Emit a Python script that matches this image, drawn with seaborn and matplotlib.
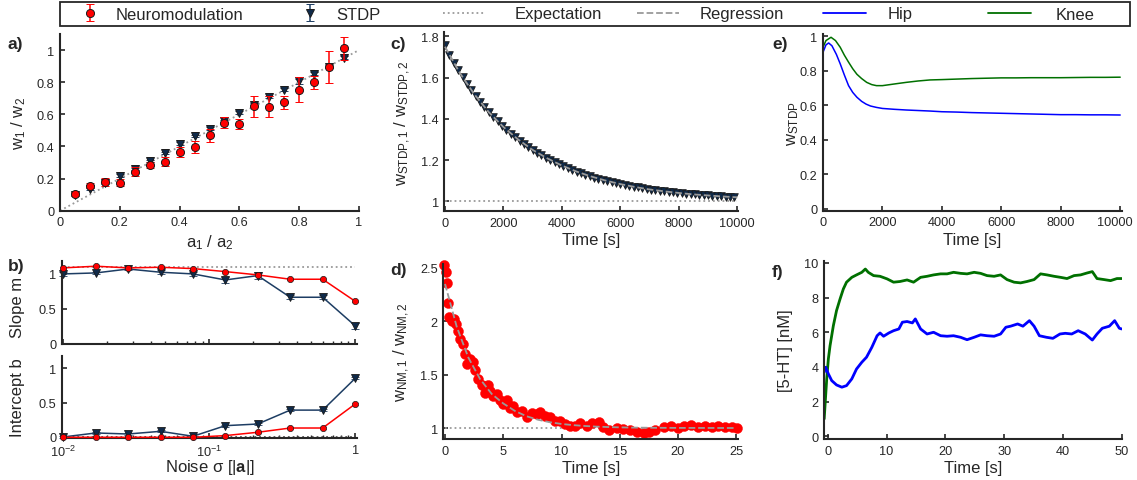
import numpy as np
import pandas as pd
import seaborn as sns
import matplotlib.pyplot as plt
import matplotlib.transforms as mtransforms
from matplotlib.lines import Line2D
from matplotlib.patches import Rectangle
from matplotlib.ticker import FuncFormatter, LogLocator, NullFormatter

# ---------------- data ----------------
# a) ratio of weights vs ratio of inputs
ratio_a = [0.05, 0.10, 0.15, 0.20, 0.25, 0.30, 0.35, 0.40, 0.45, 0.50,
           0.55, 0.60, 0.65, 0.70, 0.75, 0.80, 0.85, 0.90, 0.95]
nm_ratio = [0.104, 0.156, 0.180, 0.175, 0.244, 0.286, 0.306, 0.365, 0.396, 0.469,
            0.548, 0.538, 0.650, 0.648, 0.675, 0.754, 0.800, 0.896, 1.010]
nm_err = [0.010, 0.015, 0.025, 0.020, 0.025, 0.020, 0.030, 0.030, 0.035, 0.042,
          0.033, 0.031, 0.067, 0.065, 0.040, 0.080, 0.040, 0.100, 0.070]
stdp_ratio = [0.100, 0.136, 0.173, 0.219, 0.260, 0.310, 0.360, 0.417, 0.465, 0.510,
              0.559, 0.610, 0.660, 0.709, 0.754, 0.806, 0.852, 0.896, 0.952]
stdp_err = [0.008, 0.008, 0.008, 0.008, 0.008, 0.008, 0.008, 0.008, 0.008, 0.008,
            0.008, 0.008, 0.010, 0.008, 0.008, 0.015, 0.010, 0.010, 0.010]

# b) slope / intercept vs noise
noise = [0.01, 0.0167, 0.0278, 0.0464, 0.0774, 0.129, 0.215, 0.359, 0.599, 1.0]
nm_slope = [1.086, 1.110, 1.086, 1.095, 1.076, 1.033, 0.986, 0.924, 0.924, 0.610]
nm_slope_err = [0.01, 0.01, 0.01, 0.01, 0.01, 0.01, 0.01, 0.01, 0.01, 0.01]
stdp_slope = [1.000, 1.014, 1.070, 1.024, 1.000, 0.914, 0.976, 0.667, 0.667, 0.260]
stdp_slope_err = [0.03, 0.02, 0.02, 0.03, 0.03, 0.04, 0.05, 0.03, 0.03, 0.04]
nm_icpt = [-0.005, -0.005, -0.005, -0.005, -0.005, 0.020, 0.068, 0.130, 0.130, 0.478]
nm_icpt_err = [0.01, 0.01, 0.01, 0.01, 0.01, 0.01, 0.01, 0.01, 0.01, 0.01]
stdp_icpt = [0.000, 0.058, 0.043, 0.082, 0.010, 0.164, 0.188, 0.390, 0.390, 0.850]
stdp_icpt_err = [0.01, 0.01, 0.01, 0.015, 0.01, 0.015, 0.02, 0.015, 0.015, 0.015]

# c) STDP weight ratio over time (one sample every 150 s)
stdp_t = np.arange(67) * 150
stdp_w = [1.758, 1.710, 1.672, 1.636, 1.602, 1.570, 1.539, 1.510, 1.483, 1.457,
          1.433, 1.409, 1.387, 1.367, 1.347, 1.328, 1.311, 1.294, 1.278, 1.264,
          1.249, 1.236, 1.223, 1.211, 1.200, 1.189, 1.179, 1.170, 1.161, 1.152,
          1.144, 1.136, 1.129, 1.122, 1.115, 1.109, 1.103, 1.098, 1.093, 1.088,
          1.083, 1.079, 1.074, 1.070, 1.067, 1.063, 1.060, 1.056, 1.053, 1.051,
          1.048, 1.045, 1.043, 1.041, 1.038, 1.036, 1.034, 1.033, 1.031, 1.029,
          1.028, 1.026, 1.025, 1.023, 1.022, 1.021, 1.020]
stdp_fit_t = [0, 500, 1000, 1500, 2000, 2500, 3000, 3500, 4000, 4500, 5000,
              5500, 6000, 6500, 7000, 7500, 8000, 8500, 9000, 9500, 10000]
stdp_fit = [1.750, 1.624, 1.520, 1.432, 1.360, 1.300, 1.249, 1.208, 1.173, 1.144, 1.120,
            1.100, 1.083, 1.069, 1.057, 1.048, 1.040, 1.033, 1.028, 1.023, 1.019]

# d) neuromodulation weight ratio over time
nm_t = [-0.1, 0.06, 0.14, 0.29, 0.37, 0.57, 0.77, 0.94, 1.14, 1.29,
        1.57, 1.72, 1.86, 2.15, 2.37, 2.57, 2.86, 3.15, 3.43, 3.72,
        3.86, 4.15, 4.43, 4.72, 5.0, 5.29, 5.58, 5.86, 6.15, 6.58,
        7.0, 7.44, 7.87, 8.15, 8.58, 9.0, 9.44, 9.87, 10.3, 10.7,
        11.2, 11.6, 12.2, 12.6, 13.2, 13.6, 14.05, 14.76, 15.3, 15.9,
        16.5, 17.1, 17.5, 18.0, 18.8, 19.4, 20.0, 20.5, 21.1, 21.7,
        22.3, 22.9, 23.4, 24.0, 24.6, 25.1]
nm_w = [2.53, 2.465, 2.356, 2.17, 2.04, 2.0, 2.02, 1.975, 1.91, 1.83,
        1.79, 1.69, 1.60, 1.65, 1.62, 1.54, 1.46, 1.40, 1.33, 1.40,
        1.35, 1.30, 1.32, 1.26, 1.225, 1.26, 1.19, 1.21, 1.15, 1.16,
        1.10, 1.14, 1.13, 1.15, 1.115, 1.10, 1.07, 1.07, 1.04, 1.02,
        1.02, 1.044, 1.02, 1.044, 1.053, 1.007, 0.98, 0.997, 0.99, 0.985,
        0.966, 0.953, 0.966, 0.985, 1.007, 1.02, 1.0, 1.015, 1.028, 1.007,
        1.015, 1.012, 1.015, 1.007, 1.012, 1.0]
nm_fit_t = [0, 1, 2, 3, 4, 5, 6, 7, 8, 9, 10, 11, 12, 13, 14, 15, 16, 18, 20, 25]
nm_fit = [2.35, 1.95, 1.66, 1.46, 1.32, 1.23, 1.16, 1.11, 1.077, 1.054, 1.038,
          1.027, 1.019, 1.013, 1.009, 1.006, 1.004, 1.002, 1.001, 1.0]

# e) STDP weights, hip and knee
e_t = [0, 100, 190, 300, 450, 580, 720, 860, 1000, 1140, 1300, 1450, 1600, 1800,
       2000, 2400, 2800, 3200, 3600, 4000, 4500, 5000, 5500, 6000, 6500, 7000,
       7500, 8000, 8500, 9000, 9500, 10000]
hip_w = [0.907, 0.950, 0.961, 0.945, 0.895, 0.840, 0.775, 0.714, 0.675, 0.647,
         0.623, 0.607, 0.596, 0.588, 0.582, 0.577, 0.573, 0.570, 0.567, 0.563,
         0.561, 0.558, 0.556, 0.554, 0.552, 0.550, 0.548, 0.546, 0.546, 0.545,
         0.545, 0.544]
knee_t = [0, 100, 270, 420, 580, 720, 860, 1000, 1140, 1300, 1470, 1640, 1800,
          2000, 2250, 2500, 2800, 3200, 3600, 4000, 4500, 5000, 5500, 6000, 6500,
          7000, 7500, 8000, 8500, 9000, 9500, 10000]
knee_w = [0.936, 0.975, 0.994, 0.975, 0.936, 0.890, 0.850, 0.812, 0.780, 0.755,
          0.733, 0.720, 0.714, 0.714, 0.720, 0.726, 0.733, 0.741, 0.747, 0.749,
          0.752, 0.755, 0.757, 0.759, 0.759, 0.760, 0.760, 0.760, 0.761, 0.762,
          0.762, 0.763]

# f) serotonin concentration
ht_knee_t = [-0.6, -0.17, 0.11, 0.4, 0.96, 1.5, 2.1, 2.66, 3.2, 4.1, 4.9, 5.8, 6.4,
             6.9, 7.8, 8.9, 10.1, 11.2, 12.3, 13.5, 14.6, 15.8, 16.9, 18.0, 19.2,
             20.3, 21.4, 22.6, 23.7, 24.9, 26.0, 27.1, 28.3, 29.4, 30.5, 31.7, 32.8,
             33.9, 35.1, 36.2, 37.3, 38.5, 39.6, 40.7, 41.9, 43.0, 44.1, 45.0, 45.8,
             47.0, 48.1, 49.2, 50.0]
ht_knee = [1.0, 3.3, 4.46, 5.23, 6.38, 7.25, 7.92, 8.5, 8.89, 9.17, 9.31, 9.46, 9.65,
           9.46, 9.27, 9.23, 9.08, 8.89, 8.93, 9.02, 8.89, 9.17, 9.23, 9.31, 9.37,
           9.37, 9.46, 9.4, 9.37, 9.46, 9.4, 9.27, 9.23, 9.31, 9.04, 8.89, 8.85,
           8.93, 9.04, 9.37, 9.31, 9.23, 9.17, 9.1, 9.27, 9.31, 9.42, 9.5, 9.1,
           9.04, 8.98, 9.1, 9.1]
ht_hip_t = [-0.6, -0.34, 0.11, 0.68, 1.5, 2.4, 3.2, 4.1, 4.9, 5.8, 6.6, 7.5, 8.4,
            8.9, 9.5, 10.4, 11.2, 12.1, 12.7, 13.5, 14.4, 14.9, 15.8, 16.9, 18.0,
            19.2, 20.3, 21.4, 22.6, 23.7, 24.9, 26.0, 27.1, 28.3, 29.4, 30.3, 31.1,
            32.3, 33.2, 34.3, 35.1, 36.0, 37.2, 38.3, 39.5, 40.4, 41.5, 42.6, 43.8,
            45.0, 45.8, 46.7, 47.9, 48.8, 49.6, 50.0]
ht_hip = [3.69, 3.98, 3.6, 3.21, 2.96, 2.83, 2.92, 3.31, 3.88, 4.27, 4.56, 5.13, 5.8,
          5.96, 5.77, 5.96, 6.09, 6.19, 6.58, 6.62, 6.54, 6.77, 6.19, 5.9, 6.0,
          5.8, 5.77, 5.8, 5.71, 5.57, 5.71, 5.85, 5.8, 5.77, 5.9, 6.29, 6.35,
          6.48, 6.35, 6.67, 6.35, 5.8, 5.71, 5.65, 5.9, 5.94, 5.9, 6.09, 5.9,
          5.55, 5.9, 6.23, 6.35, 6.67, 6.23, 6.19]

# ---------------- style ----------------
RED = '#ff0000'
NAVY = '#0f2a4a'
NAVY_LINE = '#1d3d63'
GRAY = '#9a9a9a'
BLUE = '#0000ff'
GREEN = '#007000'
INK = '#262626'

sns.set_theme(style='ticks')
plt.rcParams['font.family'] = ['Liberation Sans', 'DejaVu Sans']
plt.rcParams['mathtext.fontset'] = 'custom'
plt.rcParams['mathtext.rm'] = 'Liberation Sans'
plt.rcParams['mathtext.it'] = 'Liberation Sans:italic'
plt.rcParams['mathtext.bf'] = 'Liberation Sans:bold'
plt.rcParams['axes.edgecolor'] = INK
plt.rcParams['axes.linewidth'] = 1.5

W, H = 1137, 481
fig = plt.figure(figsize=(W / 100, H / 100), dpi=100)


def rect(x0, y0, x1, y1):
    return [x0 / W, 1 - y1 / H, (x1 - x0) / W, (y1 - y0) / H]


ax_a = fig.add_axes(rect(60, 35, 359, 211.7))
ax_bs = fig.add_axes(rect(62, 262.3, 357, 345))
ax_bi = fig.add_axes(rect(62, 356.7, 357, 439))
ax_c = fig.add_axes(rect(444.3, 33.3, 738.3, 212.3))
ax_d = fig.add_axes(rect(443.3, 265, 738.3, 440))
ax_e = fig.add_axes(rect(823, 35, 1121.7, 211.7))
ax_f = fig.add_axes(rect(824.3, 261.7, 1121.7, 440))

fmt_g = FuncFormatter(lambda v, p: '%g' % v)

for ax in [ax_a, ax_bs, ax_bi, ax_c, ax_d, ax_e, ax_f]:
    sns.despine(ax=ax)
    ax.tick_params(direction='in', length=3.5, width=1.2, colors=INK,
                   labelsize=9.2, pad=4)
    ax.tick_params(which='minor', direction='in', length=2.5, width=1.0, colors=INK)
    ax.yaxis.set_major_formatter(fmt_g)

# ---- a ----
ax_a.plot([0, 1], [0, 1], ls=':', color=GRAY, lw=1.3, zorder=1)
h_nm = ax_a.errorbar(ratio_a, nm_ratio, yerr=nm_err, fmt='o', ms=5.8, mfc=RED, mec='k',
                     mew=0.7, ecolor=RED, elinewidth=1.1, capsize=3, zorder=3)
h_stdp = ax_a.errorbar(ratio_a, stdp_ratio, yerr=stdp_err, fmt='v', ms=6, mfc=NAVY, mec='k',
                       mew=0.7, ecolor=NAVY_LINE, elinewidth=1.1, capsize=3, zorder=2)
ax_a.set_xlim(0, 1)
ax_a.set_ylim(0, 1.1)
ax_a.set_xticks([0, 0.2, 0.4, 0.6, 0.8, 1])
ax_a.set_yticks([0, 0.2, 0.4, 0.6, 0.8, 1])
ax_a.xaxis.set_major_formatter(fmt_g)
ax_a.set_xlabel(r'a$_1$ / a$_2$', fontsize=12, color=INK)
ax_a.set_ylabel(r'w$_1$ / w$_2$', fontsize=12, color=INK)
ax_a.xaxis.set_label_coords(0.5, -0.121)
ax_a.yaxis.set_label_coords(-0.107, 0.5)

# ---- b ----
for ax, nm_y, nm_e, st_y, st_e, ref in [
        (ax_bs, nm_slope, nm_slope_err, stdp_slope, stdp_slope_err, 1.1),
        (ax_bi, nm_icpt, nm_icpt_err, stdp_icpt, stdp_icpt_err, 0.0)]:
    ax.plot([0.01, 1.0], [ref, ref], ls=':', color=GRAY if ref else '#555555', lw=1.3, zorder=1)
    ax.errorbar(noise, st_y, yerr=st_e, fmt='-v', ms=5.5, mfc=NAVY, mec='k', mew=0.6,
                color=NAVY_LINE, ecolor=NAVY_LINE, lw=1.1, elinewidth=1.0, capsize=3,
                zorder=2, clip_on=False)
    ax.errorbar(noise, nm_y, yerr=nm_e, fmt='-o', ms=4.5, mfc=RED, mec='k', mew=0.5,
                color=RED, ecolor=RED, lw=1.1, elinewidth=1.0, capsize=2,
                zorder=3, clip_on=False)
    ax.set_xscale('log')
    ax.set_xlim(0.0098, 1.03)
    ax.set_yticks([0, 0.5, 1])
    ax.xaxis.set_minor_locator(LogLocator(base=10, subs=np.arange(2, 10)))
    ax.xaxis.set_minor_formatter(NullFormatter())
ax_bs.set_ylim(0, 1.18)
ax_bi.set_ylim(-0.015, 1.18)
ax_bs.set_xticks([0.01, 0.1, 1])
ax_bs.set_xticklabels([])
ax_bi.set_xticks([0.01, 0.1, 1])
ax_bi.set_xticklabels([r'$10^{-2}$', r'$10^{-1}$', '1'])
ax_bs.set_ylabel('Slope m', fontsize=12, color=INK)
ax_bi.set_ylabel('Intercept b', fontsize=12, color=INK)
ax_bs.yaxis.set_label_coords(-0.125, 0.46)
ax_bi.yaxis.set_label_coords(-0.125, 0.5)
ax_bi.set_xlabel(r'Noise σ [|$\mathbf{a}$|]', fontsize=12, color=INK)
ax_bi.xaxis.set_label_coords(0.5, -0.23)

# ---- c ----
ax_c.plot([0, 10000], [1, 1], ls=':', color=GRAY, lw=1.3, zorder=1)
sns.scatterplot(x=stdp_t, y=stdp_w, marker='v', s=30, color=NAVY, edgecolor='k',
                linewidth=0.6, ax=ax_c, legend=False, zorder=2)
sns.lineplot(x=stdp_fit_t, y=stdp_fit, color=GRAY, lw=1.3, ax=ax_c, zorder=3)
ax_c.lines[-1].set_linestyle('--')
ax_c.set_xlim(-24, 10034)
ax_c.set_ylim(0.951, 1.82)
ax_c.set_xticks([0, 2000, 4000, 6000, 8000, 10000])
ax_c.set_yticks([1, 1.2, 1.4, 1.6, 1.8])
ax_c.set_xlabel('Time [s]', fontsize=12, color=INK)
ax_c.set_ylabel(r'w$_{\mathrm{STDP,1}}$ / w$_{\mathrm{STDP,2}}$', fontsize=12, color=INK)
ax_c.xaxis.set_label_coords(0.5, -0.116)
ax_c.yaxis.set_label_coords(-0.106, 0.5)

# ---- d ----
ax_d.plot([0, 25], [1, 1], ls=':', color=GRAY, lw=1.3, zorder=1)
sns.scatterplot(x=nm_t, y=nm_w, marker='o', s=52, color=RED, edgecolor=RED,
                linewidth=0.3, ax=ax_d, legend=False, zorder=2, clip_on=False)
sns.lineplot(x=nm_fit_t, y=nm_fit, color=GRAY, lw=1.3, ax=ax_d, zorder=3)
ax_d.lines[-1].set_linestyle('--')
ax_d.set_xlim(-0.15, 25.18)
ax_d.set_ylim(0.897, 2.537)
ax_d.set_xticks([0, 5, 10, 15, 20, 25])
ax_d.set_yticks([1, 1.5, 2, 2.5])
ax_d.set_xlabel('Time [s]', fontsize=12, color=INK)
ax_d.set_ylabel(r'w$_{\mathrm{NM,1}}$ / w$_{\mathrm{NM,2}}$', fontsize=12, color=INK)
ax_d.xaxis.set_label_coords(0.5, -0.12)
ax_d.yaxis.set_label_coords(-0.107, 0.5)

# ---- e ----
sns.lineplot(x=e_t, y=hip_w, color=BLUE, lw=1.1, ax=ax_e)
sns.lineplot(x=knee_t, y=knee_w, color=GREEN, lw=1.1, ax=ax_e)
ax_e.set_xlim(0, 10050)
ax_e.set_ylim(-0.01, 1.013)
ax_e.set_xticks([0, 2000, 4000, 6000, 8000, 10000])
ax_e.set_yticks([0, 0.2, 0.4, 0.6, 0.8, 1])
ax_e.set_xlabel('Time [s]', fontsize=12, color=INK)
ax_e.set_ylabel(r'w$_{\mathrm{STDP}}$', fontsize=12, color=INK)
ax_e.xaxis.set_label_coords(0.5, -0.121)
ax_e.yaxis.set_label_coords(-0.074, 0.5)
# keep the last tick label inside the figure
last = ax_e.get_xticklabels()[-1]
last.set_transform(last.get_transform() +
                   mtransforms.ScaledTranslation(-5 / 100, 0, fig.dpi_scale_trans))

# ---- f ----
sns.lineplot(x=ht_knee_t, y=ht_knee, color=GREEN, lw=2.0, ax=ax_f)
sns.lineplot(x=ht_hip_t, y=ht_hip, color=BLUE, lw=2.0, ax=ax_f)
ax_f.set_xlim(-0.58, 50)
ax_f.set_ylim(-0.16, 10.13)
ax_f.set_xticks([0, 10, 20, 30, 40, 50])
ax_f.set_yticks([0, 2, 4, 6, 8, 10])
ax_f.set_xlabel('Time [s]', fontsize=12, color=INK)
ax_f.set_ylabel('[5-HT] [nM]', fontsize=12, color=INK)
ax_f.xaxis.set_label_coords(0.5, -0.118)
ax_f.yaxis.set_label_coords(-0.105, 0.5)

# ---- panel letters ----
for lab, x, y in [('a)', 8, 44), ('b)', 8, 266), ('c)', 390, 44),
                  ('d)', 390, 270), ('e)', 772, 44), ('f)', 772, 272)]:
    fig.text(x / W, 1 - y / H, lab, fontsize=12.5, fontweight='bold', color=INK,
             va='center', ha='left')

# ---- shared legend: a frame plus one entry per slot ----
fig.patches.append(Rectangle((60 / W, 1 - 27 / H), 1070 / W, 24 / H,
                             transform=fig.transFigure, fill=False,
                             edgecolor=INK, lw=1.3))
entries = [(h_nm, 'Neuromodulation', 81.5, 1.0, 1.06),
           (h_stdp, 'STDP', 301.5, 1.0, 1.06),
           (Line2D([], [], color=GRAY, ls=':', lw=1.3), 'Expectation', 443, 2.5, 1.8),
           (Line2D([], [], color=GRAY, ls='--', lw=1.3), 'Regression', 637, 2.5, 1.25),
           (Line2D([], [], color=BLUE, lw=1.3), 'Hip', 823, 2.6, 1.25),
           (Line2D([], [], color=GREEN, lw=1.3), 'Knee', 988, 2.6, 1.45)]
for h, lab, x0, hl, tp in entries:
    lg = fig.legend([h], [lab], loc='center left', bbox_to_anchor=(x0 / W, 1 - 15 / H),
                    frameon=False, fontsize=12, handlelength=hl, handletextpad=tp,
                    borderaxespad=0, borderpad=0)
    for t in lg.get_texts():
        t.set_color(INK)

fig.savefig('out.png', dpi=100)
